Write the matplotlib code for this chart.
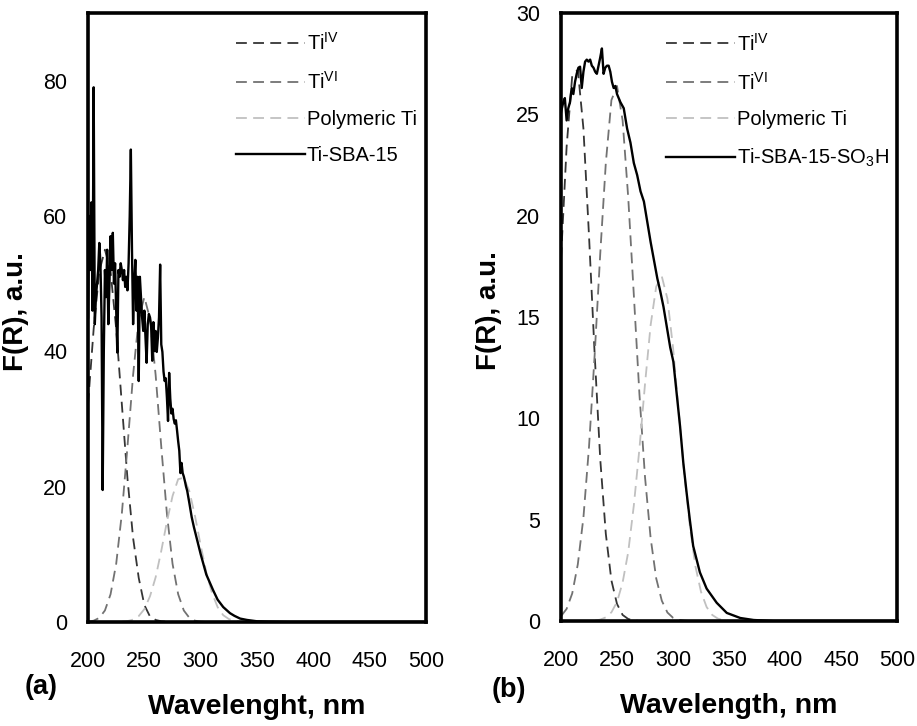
import matplotlib
matplotlib.use("Agg")
import matplotlib.pyplot as plt

plt.rcParams['font.family'] = ['Liberation Sans', 'DejaVu Sans']
plt.rcParams['mathtext.fontset'] = 'custom'
plt.rcParams['mathtext.rm'] = 'Liberation Sans'
plt.rcParams['mathtext.it'] = 'Liberation Sans:italic'
plt.rcParams['mathtext.bf'] = 'Liberation Sans:bold'

# measured spectrum, panel (a)
wl_a = list(range(200, 289)) + [290, 292, 294, 297, 300, 305, 311, 315, 320,
                                326, 330, 335, 341, 350, 360, 380, 500]
fr_a = [45, 60, 52, 62, 46, 79, 44, 48, 50, 52,
        56, 53, 45, 19.5, 40, 52, 48, 55, 44, 50,
        57, 52, 57.5, 50, 53, 46, 39.8, 52, 51, 53,
        52, 50.5, 52, 49.5, 51, 49, 53, 60, 69.8, 55,
        44, 50, 53.5, 46, 51, 35.6, 51, 48, 45, 43,
        46, 42, 38.3, 44, 45.5, 45, 43.8, 38.6, 44.3, 40,
        43, 39.9, 42, 45, 52.8, 41, 39.9, 37, 35.6, 36,
        33.2, 29.7, 36.8, 33, 30.8, 31.5, 30, 29.3, 29.8, 28.3,
        26.7, 25.3, 22, 23.5, 22, 21.5, 20.8, 20, 19.4,
        17.5, 15.5, 14, 12, 10, 7, 4.7, 3.3, 2.2,
        1.3, 0.9, 0.5, 0.3, 0.1, 0.05, 0, 0]

# measured spectrum, panel (b)
wl_b = [200, 202, 203.4, 205, 206.5, 208, 209.5, 211, 212.5, 214,
        215.5, 217, 218.5, 220, 221.5, 223, 224.5, 226, 227.5, 229,
        230.5, 232, 233.5, 235, 236.5, 238, 239.5, 241, 242.5, 244,
        245.5, 247, 248.5, 250, 253, 256, 259, 262, 265, 268,
        271, 274, 277, 280, 283, 286, 288.5, 291.5, 294.5, 297.5,
        300.3, 303.3, 306.3, 309.2, 312.2, 315, 318, 324, 330, 339,
        348, 360, 372, 390, 500]
fr_b = [25.1, 25.6, 25.8, 24.7, 25.3, 25.6, 26.3, 26, 26.6, 27,
        27.3, 27.35, 26.3, 27.1, 27.6, 27.7, 27.6, 27.7, 27.4, 27.3,
        27.1, 27, 27.4, 27.8, 28.25, 27, 27.3, 27.4, 27.4, 27.1,
        26.6, 26.3, 26.4, 26, 25.6, 25.3, 24.3, 23.6, 22.6, 22,
        21.2, 20.7, 19.7, 18.7, 17.8, 16.9, 16.3, 15.5, 14.5, 13.5,
        12.8, 11.2, 9.6, 7.8, 6.3, 5, 3.7, 2.4, 1.6, 0.9,
        0.4, 0.15, 0.05, 0, 0]

# fitted components, read every 5 nm (200..360) plus 500
comp_wl = list(range(200, 365, 5)) + [500]

ti4_a = [32.2, 43.3, 51.8, 55, 51.8, 43.3, 32.2, 21.2, 12.4, 6.5,
         2.5, 0.8, 0.3, 0.1, 0.04, 0.01] + [0] * 18
ti6_a = [0.05, 0.19, 0.6, 1.7, 4.1, 8.6, 16.0, 25.9, 36.5, 44.8,
         48, 44.8, 36.5, 25.9, 16.0, 8.6, 4.1, 1.7, 0.6, 0.19, 0.05] + [0] * 13
poly_a = [0] * 6 + [0.04, 0.13, 0.35, 0.87, 1.9, 3.8, 6.6, 10.5, 14.8, 18.6,
                    21.1, 21.3, 19.3, 15.6, 11.3, 7.3, 4.3, 2.2, 1.0, 0.43,
                    0.16, 0.05, 0.01] + [0] * 5

ti4_b = [17.9, 23.4, 26.9, 27.2, 24.3, 19.0, 13.2, 8.0, 4.3, 2.0,
         0.84, 0.3, 0.1, 0.03] + [0] * 20
ti6_b = [0.24, 0.6, 1.36, 2.8, 5.1, 8.6, 13.1, 18.1, 22.6, 25.7,
         26.4, 24.7, 20.9, 16.1, 11.2, 7.1, 4.1, 2.1, 1.0, 0.42,
         0.16, 0.06, 0.02] + [0] * 11
poly_b = [0] * 6 + [0.02, 0.07, 0.18, 0.43, 0.94, 1.9, 3.4, 5.7, 8.5, 11.7,
                    14.6, 16.5, 17.0, 15.9, 13.5, 10.4, 7.3, 4.7, 2.7, 1.44,
                    0.69, 0.3, 0.12, 0.04, 0.01] + [0] * 3

labels_a = [r'Ti$^{\mathrm{IV}}$', r'Ti$^{\mathrm{VI}}$', 'Polymeric Ti', 'Ti-SBA-15']
labels_b = [r'Ti$^{\mathrm{IV}}$', r'Ti$^{\mathrm{VI}}$', 'Polymeric Ti',
            r'Ti-SBA-15-SO$_{\mathrm{3}}$H']

dash = (0, (6, 3.5))
comp_colors = ['#353535', '#727272', '#c0c0c0']

fig = plt.figure(figsize=(9.17, 7.26), dpi=100)
ax_a = fig.add_axes([0.096, 0.1433, 0.3686, 0.839])
ax_b = fig.add_axes([0.6118, 0.1446, 0.3664, 0.8375])


def draw(ax, comps, wl, fr, labels, ymax, yticks, xlabel, leg_x, ylab_x):
    for vals, c, lab in zip(comps, comp_colors, labels[:3]):
        ax.plot(comp_wl, vals, color=c, lw=1.3, linestyle=dash, label=lab)
    ax.plot(wl, fr, color='black', lw=1.7, label=labels[3])
    ax.set_xlim(200, 500)
    ax.set_ylim(0, ymax)
    ax.set_xticks(range(200, 501, 50))
    ax.set_yticks(yticks)
    ax.tick_params(length=0, labelsize=15.5)
    ax.tick_params(axis='x', pad=21)
    ax.tick_params(axis='y', pad=15)
    for s in ax.spines.values():
        s.set_linewidth(2.6)
    ax.set_xlabel(xlabel, fontsize=20.5, fontweight='bold')
    ax.xaxis.label.set_va('center')
    ax.xaxis.set_label_coords(0.5, -0.14)
    ax.set_ylabel('F(R), a.u.', fontsize=20, fontweight='bold')
    ax.yaxis.label.set_va('center')
    ax.yaxis.set_label_coords(ylab_x, 0.51)
    ax.legend(frameon=False, loc='upper left', bbox_to_anchor=(leg_x, 0.978),
              fontsize=14.5, handlelength=3.4, handletextpad=0.12,
              labelspacing=0.85, borderaxespad=0, borderpad=0.3)


draw(ax_a, [ti4_a, ti6_a, poly_a], wl_a, fr_a, labels_a, 90, range(0, 81, 20),
     'Wavelenght, nm', 0.42, -0.213)
draw(ax_b, [ti4_b, ti6_b, poly_b], wl_b, fr_b, labels_b, 30, range(0, 31, 5),
     'Wavelength, nm', 0.295, -0.215)

fig.text(0.027, 0.054, '(a)', fontsize=19.5, fontweight='bold', va='center')
fig.text(0.5365, 0.0496, '(b)', fontsize=19.5, fontweight='bold', va='center')

fig.savefig('out.png', dpi=100)
